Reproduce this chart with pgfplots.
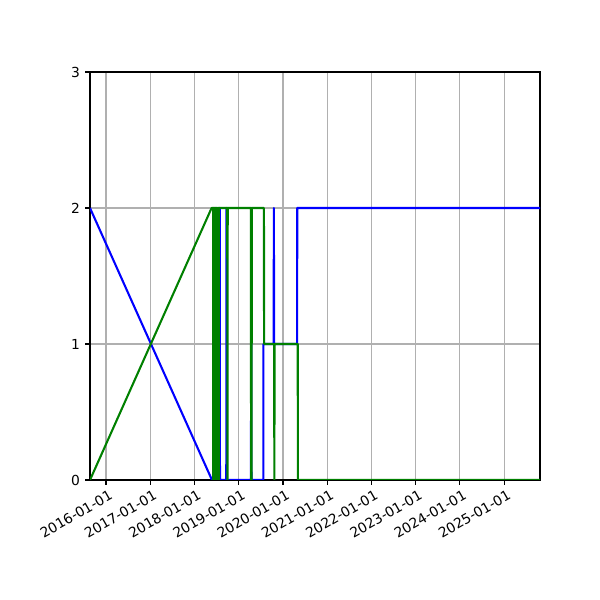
\documentclass[border=0pt]{standalone}
\usepackage{fontspec}
\setmainfont{DejaVu Sans}
\usepackage{pgfplots}
\pgfplotsset{compat=1.18}
\definecolor{mplblue}{RGB}{0,0,255}
\definecolor{mplgreen}{RGB}{0,128,0}
\definecolor{gridgray}{RGB}{176,176,176}
\begin{document}
\begin{tikzpicture}
\path[use as bounding box] (0,0) rectangle (6in,6in);
\begin{axis}[
  at={(0.9in,1.2in)}, anchor=south west,
  scale only axis, width=4.5in, height=4.08in,
  xmin=-132, xmax=3583, ymin=0, ymax=3,
  xtick={0,366,731,1096,1461,1827,2192,2557,2922,3288},
  xticklabels={2016-01-01,2017-01-01,2018-01-01,2019-01-01,2020-01-01,2021-01-01,2022-01-01,2023-01-01,2024-01-01,2025-01-01},
  ytick={0,1,2,3},
  tick align=outside, major tick length=3.5pt,
  tick style={black, line width=0.8pt},
  xtick pos=bottom, ytick pos=left,
  axis line style={black, line width=0.8pt},
  grid=major, major grid style={gridgray, line width=0.8pt},
  /pgf/number format/assume math mode=true,
  ticklabel style={font=\fontsize{10}{12}\selectfont},
  xticklabel style={rotate=30, anchor=north east, inner sep=0pt, yshift=-3.5pt},
  yticklabel style={anchor=east, inner sep=0pt, xshift=-3.5pt},
  clip=true,
]
\addplot[mplblue, line width=1.5pt, line join=round] coordinates {
(-132,2) (875,0) (885,0) (887,2) (889,0) (899,0) (901,2) (903,0) (913,0) (915,2) (917,0)
(937,0) (939,2) (941,0) (993,0) (995,2) (997,0) (1197,0) (1199,2) (1201,0)
(1299,0) (1300,1) (1384,1) (1386,2) (1388,1) (1578,1) (1579,2) (3583,2)
};
\addplot[mplgreen, line width=1.5pt, line join=round] coordinates {
(-132,0) (872,2) (884,2) (885,0) (886,2) (887,0) (888,2) (889,0) (890,2) (891,0) (892,2)
(894,0) (896,2) (897,0) (898,2) (899,0) (900,2) (901,0) (902,2) (903,0) (904,2)
(906,0) (908,2) (909,0) (910,2) (911,0) (912,2) (913,0) (914,2) (915,0) (916,2)
(918,0) (920,2) (921,0) (922,2) (923,0) (924,2) (925,0) (926,2) (927,0) (928,2)
(929,0) (930,2) (931,0) (932,2)
(1001,2) (1003,0) (1005,2) (1196,2) (1198,0) (1200,2) (1202,0) (1204,2)
(1304,2) (1305,1) (1388,1) (1390,0) (1392,1) (1583,1) (1584,0) (3583,0)
};
\end{axis}
\end{tikzpicture}
\end{document}
